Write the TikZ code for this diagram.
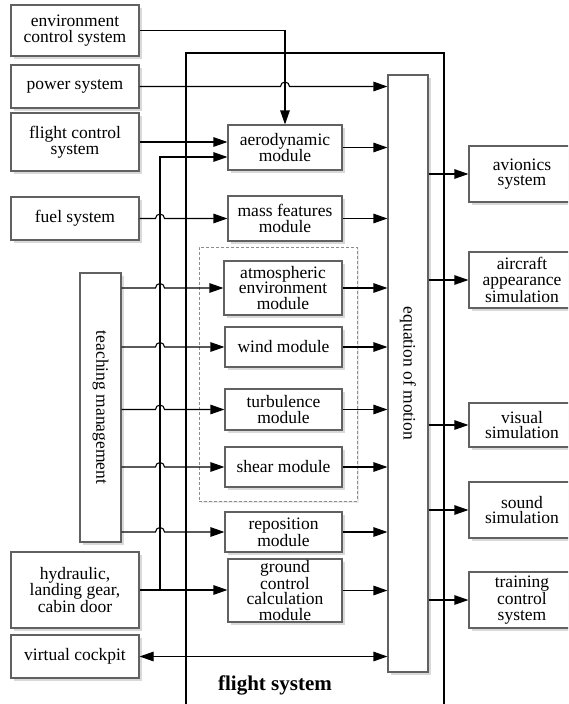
\documentclass[tikz,border=0pt]{standalone}
\usepackage{fontspec}
\setmainfont{Liberation Serif}
\usetikzlibrary{arrows.meta,shadows}
\begin{document}
\begin{tikzpicture}[x=1pt,y=-1pt,
  box/.style={draw=black!62, line width=1.1pt, fill=white, rectangle, inner sep=0pt,
    align=center, font=\fontsize{17.5}{15.6}\selectfont,
    drop shadow={shadow xshift=2.5pt, shadow yshift=-2.5pt, fill=black!15, opacity=1}},
  conn/.style={line width=1.1pt, draw=black},
  arr/.style={conn, -{Triangle[length=14pt,width=9.5pt]}},
  darr/.style={conn, {Triangle[length=14pt,width=9.5pt]}-{Triangle[length=14pt,width=9.5pt]}},
]
\useasboundingbox (0,0) rectangle (568,704);
\clip (0,0) rectangle (568,704);

% flight system frame
\node[draw=black, line width=1.2pt, rectangle, inner sep=0pt,
  minimum width=258pt, minimum height=680pt] (fsys) at (315,393) {};
\node[font=\fontsize{21}{21}\bfseries\selectfont] (fslabel) at (275,685) {flight system};

% dashed group
\node[draw=black!45, dash pattern=on 3pt off 2pt, line width=0.7pt, rectangle, inner sep=0pt,
  minimum width=158pt, minimum height=254pt,
  drop shadow={shadow xshift=2pt, shadow yshift=-2pt, fill=black!8, opacity=1}, fill=white] (grp) at (278,374) {};

% left boxes
\node[box, minimum width=128pt, minimum height=51pt] (env) at (75,30.5) {environment\\control system};
\node[box, minimum width=128pt, minimum height=43pt] (power) at (75,86.5) {power system};
\node[box, minimum width=128pt, minimum height=58pt] (fcs) at (75,142) {flight control\\system};
\node[box, minimum width=128pt, minimum height=43pt] (fuel) at (75,218.5) {fuel system};
\node[box, minimum width=41pt, minimum height=269pt] (teach) at (100.5,407.5) {\rotatebox{-90}{teaching management}};
\node[box, minimum width=128pt, minimum height=76pt] (hyd) at (75,590) {hydraulic,\\landing gear,\\cabin door};
\node[box, minimum width=128pt, minimum height=43pt] (vc) at (75,656.5) {virtual cockpit};

% modules
\node[box, minimum width=114pt, minimum height=45pt] (aero) at (285,147.5) {aerodynamic\\module};
\node[box, minimum width=114pt, minimum height=45pt] (mass) at (285,218.5) {mass features\\module};
\node[box, minimum width=118pt, minimum height=54pt] (atm) at (283,288) {atmospheric\\environment\\module};
\node[box, minimum width=117pt, minimum height=40pt] (wind) at (283.5,347) {wind module};
\node[box, minimum width=117pt, minimum height=41pt] (turb) at (283.5,409.5) {turbulence\\module};
\node[box, minimum width=117pt, minimum height=40pt] (shear) at (283.5,467) {shear module};
\node[box, minimum width=117pt, minimum height=40pt] (repos) at (283.5,532) {reposition\\module};
\node[box, minimum width=114pt, minimum height=63pt] (ground) at (285,590.5) {ground\\control\\calculation\\module};

% equation of motion
\node[box, minimum width=40pt, minimum height=597pt] (eq) at (408,373.5) {\rotatebox{-90}{equation of motion}};

% right boxes
\node[box, minimum width=106pt, minimum height=56pt] (avio) at (522,174) {avionics\\system};
\node[box, minimum width=106pt, minimum height=56pt] (appear) at (522,280) {aircraft\\appearance\\simulation};
\node[box, minimum width=106pt, minimum height=44pt] (visual) at (522,425) {visual\\simulation};
\node[box, minimum width=106pt, minimum height=56pt] (sound) at (522,510) {sound\\simulation};
\node[box, minimum width=106pt, minimum height=56pt] (train) at (522,600) {training\\control\\system};

\coordinate (bus) at (160,590);

% inputs
\draw[arr] (env.east) -| (aero.north);
\draw[arr] (power.east) -- ([xshift=-4.5pt]power.east -| aero.north)
  arc[start angle=180,end angle=0,radius=4.5pt] -- (power.east -| eq.west);
\draw[arr] (fcs.east) -- (fcs.east -| aero.west);
\draw[arr] (hyd.east) -- (hyd.east -| ground.west);
\draw[arr] (bus |- hyd.east) |- ([yshift=-9.5pt]aero.west);
\draw[arr] (fuel.east) -- ([xshift=-4.5pt]bus |- fuel.east)
  arc[start angle=180,end angle=0,radius=4.5pt] -- (mass.west);
\foreach \m in {atm,wind,turb,shear,repos}{
  \draw[arr] (teach.east |- \m.west) -- ([xshift=-4.5pt]bus |- \m.west)
    arc[start angle=180,end angle=0,radius=4.5pt] -- (\m.west);
}
\draw[darr] (vc.east) -- (vc.east -| eq.west);

% modules to equation
\foreach \m in {aero,mass,atm,wind,turb,shear,repos,ground}{
  \draw[arr] (\m.east) -- (\m.east -| eq.west);
}

% equation to outputs
\foreach \m in {avio,appear,visual,sound,train}{
  \draw[arr] (eq.east |- \m.west) -- (\m.west);
}
\end{tikzpicture}
\end{document}
